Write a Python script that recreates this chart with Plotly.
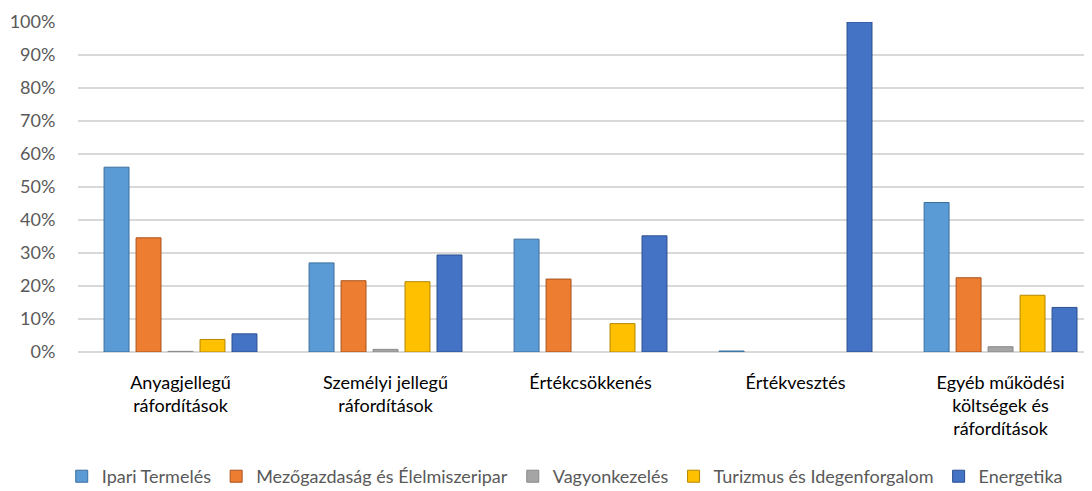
import plotly.graph_objects as go

categories = ["Anyagjellegű<br>ráfordítások", "Személyi jellegű<br>ráfordítások",
              "Értékcsökkenés", "Értékvesztés",
              "Egyéb működési<br>költségek és<br>ráfordítások"]

ipari = [0.56, 0.27, 0.342, 0.003, 0.453]
mezo = [0.346, 0.216, 0.221, 0.0, 0.225]
vagyon = [0.002, 0.008, 0.0, 0.0, 0.016]
turizmus = [0.038, 0.213, 0.086, 0.0, 0.172]
energetika = [0.055, 0.294, 0.352, 1.0, 0.135]

series_names = ["Ipari Termelés", "Mezőgazdaság és Élelmiszeripar", "Vagyonkezelés",
                "Turizmus és Idegenforgalom", "Energetika"]
series_values = [ipari, mezo, vagyon, turizmus, energetika]
colors = ["#5B9BD5", "#ED7D31", "#A5A5A5", "#FFC000", "#4472C4"]
line_colors = ["#3A6E9E", "#A8541E", "#8A8A8A", "#B38600", "#2C4F8E"]

fig = go.Figure()
for name, vals, c, lc in zip(series_names, series_values, colors, line_colors):
    yv = [v if v > 0 else None for v in vals]
    fig.add_trace(go.Bar(x=categories, y=yv, name=name,
                         marker=dict(color=c, line=dict(color=lc, width=1))))

FONT = "Lato, 'Open Sans', sans-serif"
fig.update_layout(
    width=1084, height=483,
    margin=dict(l=70, r=0, t=14, b=139),
    paper_bgcolor="white", plot_bgcolor="white",
    barmode="group", bargap=0.22, bargroupgap=0.22,
    font=dict(family=FONT, size=18, color="#595959"),
    legend=dict(orientation="h", x=0.48, xanchor="center", yref="container",
                y=0.03, yanchor="middle",
                font=dict(size=18, color="#595959"), itemwidth=30,
                traceorder="normal"),
    xaxis=dict(range=[-0.5, 4.446], showgrid=False, showline=False, zeroline=False,
               automargin=False,
               ticks="outside", ticklen=14, tickcolor="rgba(0,0,0,0)",
               tickfont=dict(size=18, color="#000000")),
    yaxis=dict(range=[0, 1.0], dtick=0.1, tickformat=".0%", showgrid=True,
               automargin=False,
               gridcolor="#D9D9D9", gridwidth=1.5, zeroline=True, zerolinecolor="#D9D9D9",
               zerolinewidth=1.5, showline=False, ticks="outside", ticklen=18,
               tickcolor="rgba(0,0,0,0)", tickfont=dict(size=18, color="#595959")),
)

fig.write_html("out.html")
